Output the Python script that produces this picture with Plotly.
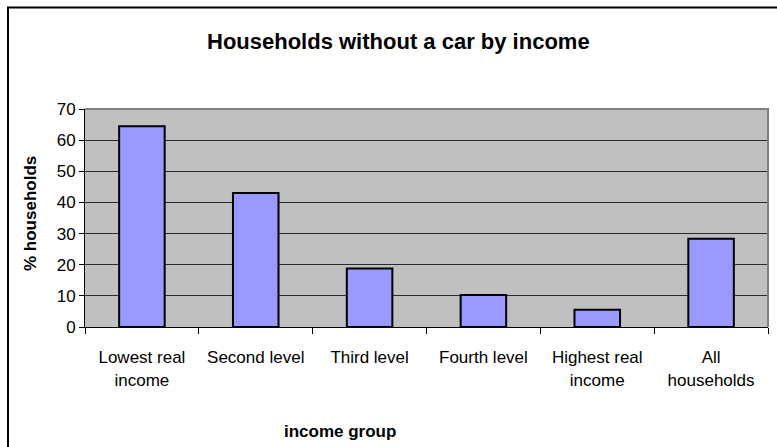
import plotly.graph_objects as go

categories = ["Lowest real income", "Second level", "Third level", "Fourth level",
              "Highest real income", "All households"]
tick_labels = ["Lowest real<br>income", "Second level", "Third level", "Fourth level",
               "Highest real<br>income", "All<br>households"]
values = [64.5, 43.0, 18.8, 10.3, 5.5, 28.3]

FONT = "Liberation Sans, Arial, sans-serif"
W, H = 777, 447
L, R, T, B = 85, 9, 109, 120
pw, ph = W - L - R, H - T - B

def px_x(x):
    return (x - L) / pw

def px_y(y):
    return (H - B - y) / ph

fig = go.Figure(go.Bar(
    x=categories, y=values, width=0.4,
    marker=dict(color="#9999FF", line=dict(color="black", width=2)),
    hoverinfo="skip",
))

fig.update_layout(
    width=W, height=H,
    margin=dict(l=L, r=R, t=T, b=B, autoexpand=False),
    paper_bgcolor="white", plot_bgcolor="#C0C0C0",
    showlegend=False,
    font=dict(family=FONT, size=17, color="black"),
)
fig.update_xaxes(
    type="category", tickmode="array", tickvals=categories, ticktext=tick_labels,
    range=[-0.5, 5.5], showline=True, linecolor="black", linewidth=1,
    ticks="outside", tickson="boundaries", ticklen=6, tickcolor="black",
    showgrid=False, tickfont=dict(size=17), ticklabelstandoff=15,
)
fig.update_yaxes(
    range=[0, 70], dtick=10, showline=True, linecolor="black", linewidth=1,
    ticks="outside", ticklen=5, tickcolor="black",
    showgrid=True, gridcolor="#2a2a2a", gridwidth=1, zeroline=False,
    tickfont=dict(size=17),
)

# plot-area border (top & right, grey)
fig.add_shape(type="path", xref="paper", yref="paper",
              path="M 0,1 L 1,1 L 1,0", line=dict(color="#808080", width=2))
# chart-area border
fig.add_shape(type="rect", xref="paper", yref="paper",
              x0=px_x(8), x1=px_x(790), y0=px_y(460), y1=px_y(7.5),
              line=dict(color="black", width=2), fillcolor="rgba(0,0,0,0)")

fig.add_annotation(text="<b>Households without a car by income</b>", xref="paper", yref="paper",
                   x=px_x(398), y=px_y(42), xanchor="center", yanchor="middle",
                   showarrow=False, font=dict(size=22))
fig.add_annotation(text="<b>% households</b>", xref="paper", yref="paper",
                   x=px_x(30), y=px_y(214), xanchor="center", yanchor="middle",
                   textangle=-90, showarrow=False, font=dict(size=17))
fig.add_annotation(text="<b>income group</b>", xref="paper", yref="paper",
                   x=px_x(340), y=px_y(431), xanchor="center", yanchor="middle",
                   showarrow=False, font=dict(size=17))

fig.write_html("out.html")
